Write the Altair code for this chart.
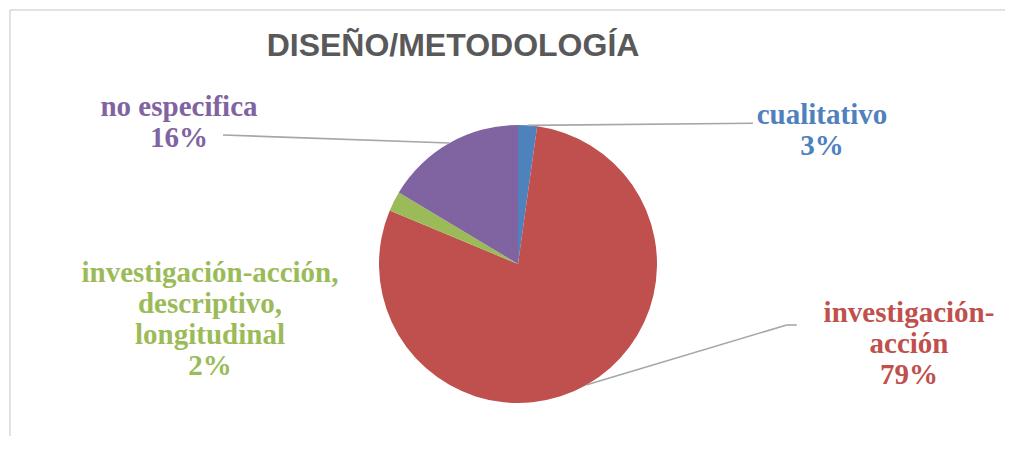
import altair as alt
import numpy as np
import pandas as pd

# ---- data ----
categories = [
    "cualitativo",
    "investigación-acción",
    "investigación-acción, descriptivo, longitudinal",
    "no especifica",
]
values = [2.2, 79.1, 2.3, 16.4]          # percent shares
pct_labels = ["3%", "79%", "2%", "16%"]  # percentages as printed on the chart
colors = ["#4F81BD", "#C0504D", "#9BBB59", "#8064A2"]
title_text = "DISEÑO/METODOLOGÍA"

# how each category label is broken into lines (layout only)
label_lines = {
    "cualitativo": ["cualitativo"],
    "investigación-acción": ["investigación-", "acción"],
    "investigación-acción, descriptivo, longitudinal": ["investigación-acción,", "descriptivo,", "longitudinal"],
    "no especifica": ["no especifica"],
}

# ---- layout constants ----
W, H = 997, 428
CX, CY, R = 510, 256, 139
label_pos = {  # center x, first baseline y
    "cualitativo": (814, 116),
    "investigación-acción": (901, 314),
    "investigación-acción, descriptivo, longitudinal": (202, 274),
    "no especifica": (171, 107.5),
}
leader_end = {  # where the leader line meets the label (None = no leader)
    "cualitativo": [(745, 115.3)],
    "investigación-acción": [(778.7, 317), (788.7, 317)],
    "investigación-acción, descriptivo, longitudinal": None,
    "no especifica": [(215, 127)],
}
LINE_COLOR = "#A6A6A6"
LABEL_FONT = "Liberation Serif"
LABEL_SIZE = 29

df = pd.DataFrame({"cat": categories, "value": values, "idx": range(len(categories))})
total = float(np.sum(values))

layers = []

# border of the chart area
layers.append(
    alt.Chart(pd.DataFrame({"a": [0]})).mark_rule(color="#D9D9D9", strokeWidth=1.5).encode(
        x=alt.value(2), x2=alt.value(W), y=alt.value(2)
    )
)
layers.append(
    alt.Chart(pd.DataFrame({"a": [0]})).mark_rule(color="#D9D9D9", strokeWidth=1.5).encode(
        x=alt.value(2), y=alt.value(2), y2=alt.value(H)
    )
)

# soft shadow behind the pie
for dx, dy, rr, op in [(2, 3, 140, 0.06), (1, 2, 139.5, 0.08)]:
    layers.append(
        alt.Chart(pd.DataFrame({"v": [1]})).mark_arc(outerRadius=rr, color="#000000", opacity=op).encode(
            theta=alt.Theta("v:Q"), x=alt.value(CX + dx), y=alt.value(CY + dy)
        )
    )

# pie
pie = alt.Chart(df).mark_arc(outerRadius=R).encode(
    theta=alt.Theta("value:Q", stack=True),
    color=alt.Color("cat:N", scale=alt.Scale(domain=categories, range=colors), legend=None),
    order=alt.Order("idx:Q"),
    x=alt.value(CX),
    y=alt.value(CY),
)
layers.append(pie)

# leader lines, starting at the mid-angle of each slice on the rim
cum = np.cumsum(values)
for i, cat in enumerate(categories):
    pts = leader_end[cat]
    if not pts:
        continue
    mid = (cum[i] - values[i] / 2.0) / total * 2 * np.pi
    start = (CX + R * np.sin(mid), CY - R * np.cos(mid))
    seq = [start] + pts
    for (x1, y1), (x2, y2) in zip(seq[:-1], seq[1:]):
        layers.append(
            alt.Chart(pd.DataFrame({"a": [0]})).mark_rule(color=LINE_COLOR, strokeWidth=1.6).encode(
                x=alt.value(float(x1)), y=alt.value(float(y1)),
                x2=alt.value(float(x2)), y2=alt.value(float(y2)),
            )
        )

# data labels
for i, cat in enumerate(categories):
    lines = label_lines[cat] + [pct_labels[i]]
    lx, ly = label_pos[cat]
    layers.append(
        alt.Chart(pd.DataFrame({"a": [0]})).mark_text(
            font=LABEL_FONT, fontSize=LABEL_SIZE, fontWeight="bold", color=colors[i],
            align="center", baseline="alphabetic", lineHeight=31,
        ).encode(x=alt.value(lx), y=alt.value(ly), text=alt.value(lines))
    )

# title
layers.append(
    alt.Chart(pd.DataFrame({"a": [0]})).mark_text(
        font="Liberation Sans", fontSize=32, fontWeight="bold", color="#595959",
        align="center", baseline="alphabetic",
    ).encode(x=alt.value(445), y=alt.value(48), text=alt.value(title_text))
)

chart = alt.layer(*layers).properties(
    width=W, height=H, padding=0, autosize=alt.AutoSizeParams(type="none"),
    background="white",
).configure_view(stroke=None)

chart.save("out.html", embed_options={"renderer": "svg", "actions": False})
